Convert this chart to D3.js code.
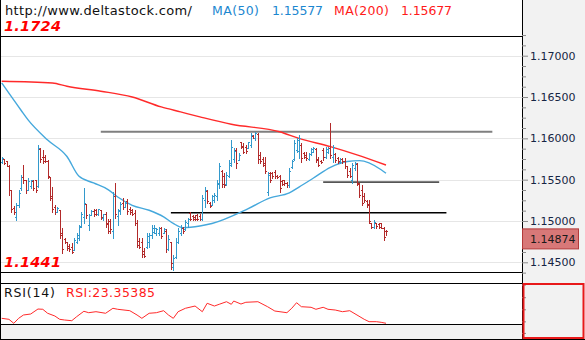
<!DOCTYPE html>
<html><head><meta charset="utf-8">
<script src="https://cdn.jsdelivr.net/npm/d3@7"></script>
<style>body{margin:0;background:#fff}svg{display:block}</style>
</head><body><svg id="c" width="585" height="340"></svg>
<script>
// ---- data ----
const opens=[1.1571,1.1575,1.1572,1.1567,1.1537,1.1516,1.1505,1.1519,1.1540,1.1553,
1.1549,1.1538,1.1542,1.1548,1.1549,1.1542,1.1587,1.1578,1.1578,1.1573,
1.1553,1.1530,1.1517,1.1511,1.1513,1.1485,1.1478,1.1474,1.1470,1.1468,
1.1465,1.1475,1.1480,1.1494,1.1505,1.1520,1.1495,1.1507,1.1512,1.1513,
1.1509,1.1513,1.1504,1.1508,1.1497,1.1500,1.1488,1.1530,1.1506,1.1512,
1.1522,1.1517,1.1524,1.1515,1.1513,1.1510,1.1498,1.1476,1.1474,1.1464,
1.1468,1.1475,1.1483,1.1487,1.1485,1.1485,1.1491,1.1486,1.1488,1.1466,
1.1474,1.1444,1.1456,1.1475,1.1486,1.1492,1.1490,1.1497,1.1510,1.1506,
1.1505,1.1507,1.1506,1.1503,1.1525,1.1536,1.1522,1.1519,1.1525,1.1530,
1.1545,1.1560,1.1555,1.1545,1.1555,1.1568,1.1575,1.1586,1.1574,1.1595,
1.1591,1.1590,1.1588,1.1592,1.1603,1.1600,1.1605,1.1580,1.1575,1.1570,
1.1535,1.1558,1.1558,1.1559,1.1555,1.1554,1.1548,1.1549,1.1546,1.1543,
1.1565,1.1575,1.1586,1.1585,1.1592,1.1582,1.1580,1.1575,1.1581,1.1584,
1.1587,1.1575,1.1573,1.1586,1.1577,1.1583,1.1588,1.1578,1.1581,1.1576,
1.1571,1.1575,1.1573,1.1566,1.1560,1.1550,1.1564,1.1569,1.1545,1.1538,
1.1530,1.1524,1.1520,1.1497,1.1493,1.1497,1.1496,1.1497,1.1492,1.1488];
const highs=[1.1578,1.1575,1.1573,1.1568,1.1538,1.1518,1.1522,1.1538,1.1556,1.1568,
1.1550,1.1552,1.1550,1.1549,1.1550,1.1592,1.1588,1.1586,1.1580,1.1574,
1.1553,1.1541,1.1519,1.1517,1.1513,1.1491,1.1480,1.1475,1.1472,1.1473,
1.1479,1.1485,1.1495,1.1511,1.1540,1.1520,1.1509,1.1513,1.1514,1.1515,
1.1515,1.1513,1.1509,1.1511,1.1503,1.1503,1.1535,1.1546,1.1515,1.1523,
1.1528,1.1523,1.1526,1.1517,1.1515,1.1513,1.1501,1.1480,1.1480,1.1467,
1.1486,1.1485,1.1495,1.1495,1.1491,1.1493,1.1493,1.1491,1.1490,1.1483,
1.1475,1.1459,1.1479,1.1491,1.1495,1.1493,1.1501,1.1504,1.1511,1.1507,
1.1507,1.1509,1.1509,1.1532,1.1541,1.1538,1.1523,1.1532,1.1534,1.1550,
1.1570,1.1562,1.1558,1.1559,1.1574,1.1598,1.1588,1.1588,1.1582,1.1596,
1.1594,1.1592,1.1596,1.1606,1.1604,1.1608,1.1606,1.1584,1.1578,1.1578,
1.1559,1.1559,1.1559,1.1562,1.1556,1.1556,1.1550,1.1550,1.1547,1.1564,
1.1574,1.1598,1.1601,1.1604,1.1594,1.1584,1.1584,1.1582,1.1588,1.1589,
1.1588,1.1578,1.1574,1.1588,1.1589,1.1589,1.1618,1.1592,1.1582,1.1578,
1.1576,1.1576,1.1576,1.1567,1.1564,1.1570,1.1571,1.1570,1.1546,1.1543,
1.1534,1.1525,1.1525,1.1498,1.1501,1.1498,1.1497,1.1498,1.1493,1.1489];
const lows=[1.1570,1.1569,1.1566,1.1532,1.1511,1.1509,1.1501,1.1517,1.1538,1.1546,
1.1534,1.1538,1.1540,1.1538,1.1535,1.1541,1.1571,1.1570,1.1571,1.1552,
1.1525,1.1511,1.1509,1.1511,1.1480,1.1461,1.1473,1.1465,1.1464,1.1461,
1.1465,1.1473,1.1477,1.1493,1.1497,1.1504,1.1489,1.1507,1.1506,1.1507,
1.1507,1.1503,1.1501,1.1493,1.1486,1.1486,1.1479,1.1504,1.1495,1.1509,
1.1515,1.1517,1.1509,1.1509,1.1507,1.1495,1.1468,1.1467,1.1456,1.1456,
1.1467,1.1468,1.1480,1.1485,1.1483,1.1483,1.1480,1.1486,1.1462,1.1465,
1.1442,1.1441,1.1455,1.1473,1.1483,1.1486,1.1489,1.1493,1.1501,1.1501,
1.1501,1.1501,1.1501,1.1501,1.1517,1.1522,1.1517,1.1519,1.1523,1.1525,
1.1540,1.1541,1.1541,1.1543,1.1553,1.1566,1.1571,1.1564,1.1574,1.1588,
1.1582,1.1582,1.1588,1.1590,1.1600,1.1598,1.1570,1.1570,1.1566,1.1558,
1.1532,1.1547,1.1552,1.1552,1.1552,1.1535,1.1544,1.1544,1.1541,1.1541,
1.1564,1.1574,1.1583,1.1576,1.1571,1.1576,1.1574,1.1574,1.1580,1.1583,
1.1571,1.1566,1.1570,1.1574,1.1576,1.1582,1.1576,1.1571,1.1571,1.1570,
1.1570,1.1570,1.1564,1.1553,1.1553,1.1546,1.1562,1.1544,1.1529,1.1519,
1.1523,1.1517,1.1497,1.1492,1.1492,1.1492,1.1491,1.1491,1.1477,1.1483];
const closes=[1.1576,1.1570,1.1567,1.1537,1.1514,1.1511,1.1519,1.1534,1.1553,1.1549,
1.1537,1.1548,1.1549,1.1540,1.1538,1.1588,1.1575,1.1573,1.1573,1.1554,
1.1528,1.1515,1.1511,1.1516,1.1483,1.1466,1.1475,1.1467,1.1466,1.1463,
1.1477,1.1483,1.1493,1.1509,1.1522,1.1507,1.1507,1.1512,1.1508,1.1509,
1.1514,1.1505,1.1508,1.1496,1.1488,1.1490,1.1530,1.1508,1.1513,1.1520,
1.1517,1.1522,1.1512,1.1511,1.1509,1.1497,1.1471,1.1469,1.1460,1.1458,
1.1482,1.1483,1.1492,1.1492,1.1490,1.1491,1.1482,1.1490,1.1466,1.1478,
1.1449,1.1455,1.1475,1.1488,1.1493,1.1488,1.1499,1.1503,1.1503,1.1502,
1.1503,1.1502,1.1503,1.1528,1.1537,1.1524,1.1518,1.1530,1.1532,1.1546,
1.1566,1.1545,1.1543,1.1556,1.1570,1.1590,1.1585,1.1570,1.1580,1.1590,
1.1584,1.1585,1.1595,1.1604,1.1601,1.1606,1.1575,1.1572,1.1568,1.1560,
1.1556,1.1550,1.1554,1.1554,1.1553,1.1540,1.1545,1.1546,1.1543,1.1560,
1.1572,1.1594,1.1598,1.1600,1.1576,1.1578,1.1576,1.1581,1.1587,1.1588,
1.1574,1.1568,1.1571,1.1577,1.1587,1.1588,1.1580,1.1590,1.1574,1.1572,
1.1575,1.1572,1.1566,1.1556,1.1555,1.1568,1.1570,1.1546,1.1532,1.1522,
1.1525,1.1519,1.1500,1.1493,1.1499,1.1494,1.1493,1.1492,1.1481,1.14874];

const ma50Idx=[0,8,11,19,27,32,38,44,48,54,61,67,71,75,82,87,102,111,119,123,129,136,143,148,157,159];
const ma50Val=[1.1667,1.1634,1.1622,1.1598,1.1578,1.1554,1.1546,1.1538,1.1529,1.1519,1.1513,1.1505,1.1497,1.1492,1.1494,1.1497,1.1515,1.1528,1.1534,1.1541,1.1552,1.1565,1.1572,1.1573,1.1562,1.15577];
const ma200Idx=[0,21,27,41,54,66,74,82,95,115,123,136,147,159];
const ma200Val=[1.1669,1.1667,1.1663,1.1657,1.1650,1.1638,1.1632,1.1626,1.1617,1.1608,1.1600,1.1590,1.1580,1.15677];

const rsiIdx=[0,3,5,7,9,12,15,17,19,22,24,26,29,31,34,36,39,43,46,48,53,56,58,61,64,67,69,71,73,76,80,83,85,88,90,93,95,96,99,101,106,110,113,118,120,122,124,128,130,133,135,138,141,144,147,150,152,155,157,159];
const rsiVal=[32.8,30.9,23.3,32.8,39.1,41.0,50.5,50.0,42.4,37.2,30.9,29.6,28.3,35.9,46.2,43.5,45.4,42.4,51.9,50.0,47.3,39.1,32.8,42.4,43.5,47.3,39.1,32.8,45.4,51.9,56.2,45.4,61.4,56.2,59.5,64.4,59.5,65.7,60.0,63.3,64.4,54.9,46.7,43.5,51.9,62.5,54.9,53.8,50.0,53.8,50.0,48.6,45.4,47.3,39.1,30.9,26.4,26.4,25.2,23.35385];

const levelVal=[1.1608,1.1547,1.1510];
const levelFrom=[41,133,70];
const levelTo=[203,181,184];
const levelColor=["#7f7f7f","#555555","#000000"];
const levelWidth=[2.2,1.6,1.5];

const majorTicks=[1.145,1.150,1.155,1.160,1.165,1.170];
const minorTicks=[1.14375,1.14625,1.1475,1.14875,1.15125,1.1525,1.15375,1.15625,1.1575,1.15875,1.16125,1.1625,1.16375,1.16625,1.1675,1.16875,1.17125,1.1725];
const rsiTicks=[97,73,50,27,5];

const siteText="http://www.deltastock.com/";
const ma50Label="MA(50)", ma200Label="MA(200)";
const ma50Last="1.15577", ma200Last="1.15677";
const rangeHigh="1.1724", rangeLow="1.1441";
const rsiLabel="RSI(14)", rsiValueLabel="RSI:23.35385";
const lastPrice=1.14874;

// ---- drawing ----
const svg=d3.select("#c");
const W=585,H=340,PR=522;
const n=closes.length;
const x=d3.scaleLinear().domain([0,n-1]).range([1.7,386]);
const y=d3.scaleLinear().domain([1.145,1.17]).range([262.3,55.7]);
const ry=d3.scaleLinear().domain([22,100]).range([324,283]);
const px=v=>Math.round(v)+0.5;

// backgrounds
svg.append("rect").attr("x",0).attr("y",0).attr("width",W).attr("height",H).attr("fill","#fff");
svg.append("rect").attr("x",PR).attr("y",0).attr("width",W-PR).attr("height",H).attr("fill","#f2f2f2");
svg.append("rect").attr("x",0).attr("y",324).attr("width",PR).attr("height",16).attr("fill","#f2f2f2");

// grid
svg.append("g").selectAll("line").data(majorTicks).join("line")
 .attr("x1",0).attr("x2",PR).attr("y1",d=>px(y(d))).attr("y2",d=>px(y(d)))
 .attr("stroke","#e6e6e6").attr("stroke-width",1);

// levels
svg.append("g").selectAll("line").data(levelVal).join("line")
 .attr("x1",(d,i)=>x(levelFrom[i])).attr("x2",(d,i)=>x(levelTo[i]))
 .attr("y1",d=>y(d)).attr("y2",d=>y(d))
 .attr("stroke",(d,i)=>levelColor[i]).attr("stroke-width",(d,i)=>levelWidth[i]);

// MA lines
const line=d3.line().x(d=>x(d[0])).y(d=>y(d[1])).curve(d3.curveMonotoneX);
svg.append("path").attr("d",line(ma200Idx.map((d,i)=>[d,ma200Val[i]])))
 .attr("fill","none").attr("stroke","#ff2a2a").attr("stroke-width",1.4);
svg.append("path").attr("d",line(ma50Idx.map((d,i)=>[d,ma50Val[i]])))
 .attr("fill","none").attr("stroke","#45a8dc").attr("stroke-width",1.4);

// OHLC bars
const bars=svg.append("g").attr("shape-rendering","crispEdges");
d3.range(n).forEach(i=>{
  const c=closes[i]>=opens[i]?"#3399cc":"#b22a2a";
  const cx=Math.round(x(i))+0.5;
  bars.append("line").attr("x1",cx).attr("x2",cx).attr("y1",y(highs[i])).attr("y2",y(lows[i])+1).attr("stroke",c).attr("stroke-width",1);
  bars.append("line").attr("x1",cx-1.5).attr("x2",cx).attr("y1",Math.round(y(opens[i]))+0.5).attr("y2",Math.round(y(opens[i]))+0.5).attr("stroke",c);
  bars.append("line").attr("x1",cx).attr("x2",cx+1.5).attr("y1",Math.round(y(closes[i]))+0.5).attr("y2",Math.round(y(closes[i]))+0.5).attr("stroke",c);
});

// RSI
const rline=d3.line().x(d=>x(d[0])).y(d=>ry(d[1]));
svg.append("path").attr("d",rline(rsiIdx.map((d,i)=>[d,rsiVal[i]])))
 .attr("fill","none").attr("stroke","#ff2a2a").attr("stroke-width",1);

// frame lines
const fr=svg.append("g").attr("stroke","#000").attr("stroke-width",1).attr("shape-rendering","crispEdges");
[[0,36.5,PR,36.5],[0,272.5,PR,272.5],[0,283.5,PR,283.5],[0,324.5,PR,324.5],[0,339.5,W,339.5],[PR+0.5,0,PR+0.5,H],[0.5,0,0.5,H]]
 .forEach(a=>fr.append("line").attr("x1",a[0]).attr("y1",a[1]).attr("x2",a[2]).attr("y2",a[3]));

// price axis
const axG=svg.append("g").attr("transform",`translate(${PR},0)`);
axG.call(d3.axisRight(y).tickValues(minorTicks).tickSize(4).tickFormat(""));
axG.append("g").call(d3.axisRight(y).tickValues(majorTicks).tickSize(6).tickPadding(2).tickFormat(d3.format(".5f")));
axG.selectAll("path.domain").remove();
axG.selectAll("line").attr("stroke","#8a8a8a");
axG.selectAll("text").attr("font-family","DejaVu Sans").attr("font-size",11).attr("fill","#162544");

const rg=svg.append("g").attr("transform",`translate(${PR},0)`);
rg.call(d3.axisRight(ry).tickValues(rsiTicks).tickSize(4).tickFormat(""));
rg.selectAll("path.domain").remove();
rg.selectAll("line").attr("stroke","#8a8a8a");

// last price box
const ly=y(lastPrice);
svg.append("rect").attr("x",PR+0.5).attr("y",ly-2.5).attr("width",56).attr("height",20)
 .attr("fill","#d87878").attr("stroke","#b23a3a");
svg.append("text").attr("x",530).attr("y",ly+11.5).attr("font-family","DejaVu Sans").attr("font-size",11)
 .attr("fill","#1a1a1a").text(d3.format(".5f")(lastPrice));

// RSI red box on right
svg.append("rect").attr("x",PR+1.5).attr("y",284).attr("width",60).attr("height",54)
 .attr("fill","none").attr("stroke","#e8191a").attr("stroke-width",2);

// header texts
const tf="DejaVu Sans";
svg.append("text").attr("x",5).attr("y",15).attr("font-family",tf).attr("font-size",13).attr("textLength",187).attr("fill","#111").text(siteText);
svg.append("text").attr("x",212).attr("y",15).attr("font-family",tf).attr("font-size",12.5).attr("textLength",47).attr("fill","#1c87d0").text(ma50Label);
svg.append("text").attr("x",272).attr("y",15).attr("font-family",tf).attr("font-size",12.5).attr("textLength",51).attr("fill","#1c87d0").text(ma50Last);
svg.append("text").attr("x",334).attr("y",15).attr("font-family",tf).attr("font-size",12.5).attr("textLength",55).attr("fill","#ff1a1a").text(ma200Label);
svg.append("text").attr("x",401).attr("y",15).attr("font-family",tf).attr("font-size",12.5).attr("textLength",51).attr("fill","#ff1a1a").text(ma200Last);

svg.append("text").attr("x",4).attr("y",30.5).attr("font-family",tf).attr("font-size",14.5).attr("font-weight","bold").attr("font-style","italic").attr("textLength",57).attr("fill","#ff0000").text(rangeHigh);
svg.append("text").attr("x",4).attr("y",266.7).attr("font-family",tf).attr("font-size",14.5).attr("font-weight","bold").attr("font-style","italic").attr("textLength",57).attr("fill","#ff0000").text(rangeLow);

svg.append("text").attr("x",4).attr("y",297).attr("font-family",tf).attr("font-size",12.5).attr("textLength",51).attr("fill","#111").text(rsiLabel);
svg.append("text").attr("x",66).attr("y",297).attr("font-family",tf).attr("font-size",12.5).attr("textLength",89).attr("fill","#ff1a1a").text(rsiValueLabel);
</script></body></html>
